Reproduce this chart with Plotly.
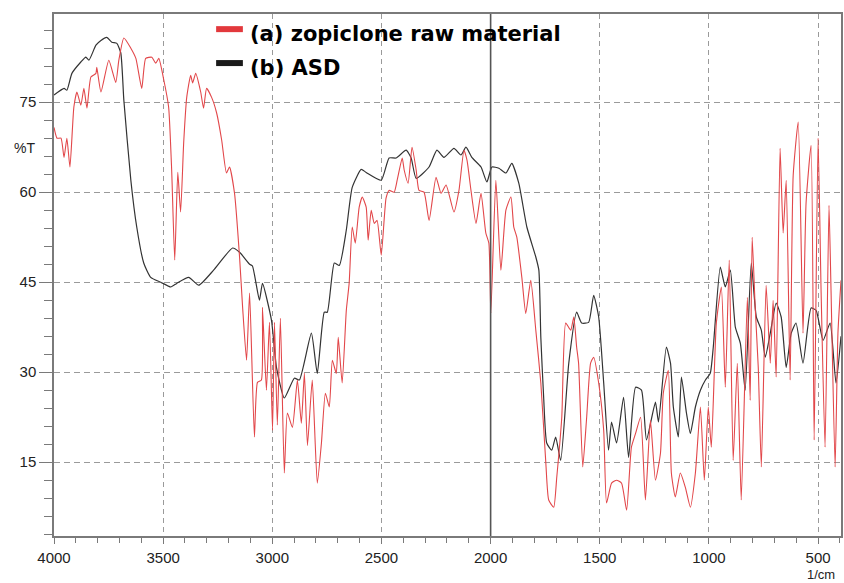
import plotly.graph_objects as go

# ---------------- data ----------------
asd_wavenumber = [4000,3954,3941,3918,3877,3854,3840,3808,3785,3758,
                  3735,3712,3694,3680,3648,3621,3589,3557,3511,3465,
                  3438,3383,3337,3269,3182,3150,3104,3091,3059,3045,
                  3004,2981,2945,2899,2876,2821,2794,2762,2748,2716,
                  2693,2661,2634,2593,2570,2501,2465,2433,2387,2364,
                  2341,2282,2246,2214,2168,2136,2113,2086,2044,2017,
                  1994,1962,1930,1903,1871,1834,1793,1779,1770,1757,
                  1743,1720,1702,1679,1642,1606,1583,1551,1528,1505,
                  1482,1460,1446,1423,1391,1368,1336,1309,1286,1245,
                  1231,1195,1176,1163,1140,1126,1103,1085,1062,1039,
                  1016,994,980,948,925,902,879,856,834,806,
                  783,760,742,719,692,669,646,623,601,569,
                  532,509,477,445,418,395]
asd_T = [76.2,77.3,77.0,79.8,81.7,82.5,82.0,84.5,85.3,85.8,
         85.0,84.8,83.2,75.3,62.0,54.2,48.2,45.8,45.0,44.2,
         44.8,45.8,44.5,47.0,50.7,50.0,48.0,47.7,42.0,44.8,
         38.7,30.8,25.7,29.0,28.7,36.5,29.8,40.0,40.0,48.2,
         47.8,53.7,60.8,63.8,63.3,62.0,65.7,65.7,67.0,65.7,
         62.3,64.2,67.0,65.8,67.3,66.2,67.5,65.8,64.2,61.7,
         64.2,64.0,63.2,64.8,61.5,54.2,49.2,47.0,35.8,25.8,
         18.2,17.0,19.2,15.3,31.5,40.0,38.2,38.3,42.8,39.2,
         28.2,17.0,21.7,18.2,25.8,15.8,27.5,27.0,18.7,25.0,
         21.7,34.2,31.5,24.2,19.2,29.2,23.2,19.8,24.2,27.0,
         28.7,29.8,34.2,47.5,44.2,47.0,37.5,34.8,27.0,48.2,
         39.2,37.0,32.5,36.5,41.5,39.2,30.8,36.5,38.2,31.5,
         40.7,40.3,35.3,38.2,28.2,36.0]

raw_wavenumber = [4000,3986,3968,3954,3941,3927,3909,3895,3877,3863,
                  3849,3831,3808,3804,3785,3749,3717,3703,3680,3648,
                  3625,3598,3580,3552,3534,3520,3497,3475,3461,3447,
                  3433,3420,3406,3392,3374,3365,3351,3328,3315,3301,
                  3278,3255,3232,3210,3196,3173,3150,3136,3118,3104,
                  3082,3068,3050,3045,3027,3013,2999,2990,2977,2963,
                  2945,2931,2908,2885,2867,2853,2839,2817,2794,2775,
                  2757,2739,2725,2707,2698,2680,2661,2648,2634,2620,
                  2602,2588,2570,2561,2547,2533,2520,2501,2479,2465,
                  2442,2428,2405,2396,2378,2360,2341,2328,2305,2282,
                  2250,2227,2204,2168,2145,2122,2108,2090,2067,2044,
                  2022,2008,1999,1976,1953,1930,1907,1894,1880,1857,
                  1839,1816,1793,1770,1747,1734,1711,1697,1674,1656,
                  1633,1619,1606,1597,1578,1560,1542,1528,1505,1482,
                  1469,1446,1423,1400,1377,1355,1336,1313,1291,1268,
                  1245,1222,1209,1186,1172,1154,1131,1108,1085,1062,
                  1039,1021,1003,989,966,943,925,907,889,870,
                  852,824,811,802,788,774,760,738,719,706,
                  692,674,660,646,628,614,591,569,555,532,
                  518,500,486,468,450,441,422,409,395]
raw_T = [70.8,69.0,69.0,65.8,69.0,64.2,74.2,76.7,74.5,77.3,
         74.0,79.2,79.8,80.8,76.7,82.0,78.3,82.0,85.7,84.0,
         82.3,77.3,82.3,82.5,81.5,82.3,78.7,74.2,63.7,48.7,
         63.3,56.7,68.2,75.8,79.5,78.2,79.8,76.7,74.0,77.3,
         75.8,73.2,68.7,63.2,64.2,59.8,49.2,40.8,32.0,43.2,
         19.2,28.3,28.7,40.8,27.0,38.3,20.3,38.3,21.2,39.0,
         13.2,23.2,20.8,28.7,21.5,29.8,17.8,28.7,11.5,18.2,
         26.5,24.2,32.0,29.8,35.8,28.2,40.3,44.8,54.2,51.5,
         57.5,59.2,57.5,52.0,57.0,54.8,55.3,49.5,59.0,60.3,
         60.0,62.0,65.7,63.7,61.5,67.5,63.7,60.3,60.0,55.3,
         62.5,59.8,61.2,56.7,60.3,67.0,65.3,60.3,54.8,59.8,
         53.2,51.5,39.8,62.0,47.0,57.0,59.2,54.2,52.5,45.8,
         39.8,45.3,37.0,28.2,14.8,8.7,7.5,12.5,22.5,38.2,
         37.0,39.2,34.2,31.5,14.2,22.5,31.5,32.5,28.2,20.3,
         8.2,11.5,12.0,11.5,7.0,17.5,19.8,22.5,8.7,22.0,
         12.0,16.5,26.5,30.3,13.2,9.2,13.2,10.8,7.5,13.2,
         24.2,12.0,24.2,17.5,38.2,44.2,27.5,48.7,15.3,31.5,
         8.7,42.5,25.3,52.5,40.8,30.8,14.2,44.5,31.5,42.0,
         29.2,67.3,53.2,62.0,28.7,62.8,71.7,36.5,58.2,67.8,
         18.7,69.0,43.2,17.5,57.8,44.2,14.2,36.5,45.3]

x_tick_values = [4000, 3500, 3000, 2500, 2000, 1500, 1000, 500]
x_tick_labels = ["4000", "3500", "3000", "2500", "2000", "1500", "1000", "500"]
y_tick_values = [15, 30, 45, 60, 75]
y_tick_labels = ["15", "30", "45", "60", "75"]
series_names = ["(a) zopiclone raw material", "(b) ASD"]
series_colors = ["#e2383c", "#1a1a1a"]
marker_wavenumber = 2000

# ---------------- figure ----------------
fig = go.Figure()
fig.add_trace(go.Scatter(x=asd_wavenumber, y=asd_T, mode="lines",
                         line=dict(color="#333333", width=1.2, shape="spline", smoothing=0.5),
                         name=series_names[1], showlegend=False))
fig.add_trace(go.Scatter(x=raw_wavenumber, y=raw_T, mode="lines",
                         line=dict(color="#e2474a", width=1.1, shape="spline", smoothing=0.5),
                         name=series_names[0], showlegend=False))

tick_font = dict(family="Liberation Sans, Arial, sans-serif", size=15, color="#222222")
grid_col = "#9a9a9a"
axis_col = "#7a7a7a"

fig.update_xaxes(range=[4000, 395], tickvals=x_tick_values, ticktext=x_tick_labels,
                 ticks="outside", ticklen=6, tickwidth=1.2, tickcolor=axis_col,
                 showline=True, linecolor=axis_col, linewidth=1.5, mirror=True,
                 showgrid=True, gridcolor=grid_col, gridwidth=1, griddash="5px,4px",
                 zeroline=False, tickfont=tick_font, ticklabelstandoff=1,
                 minor=dict(tick0=0, dtick=100, ticks="outside", ticklen=5,
                            tickcolor=axis_col, tickwidth=1.2, showgrid=False))
fig.update_yaxes(range=[2.7, 89.7], tickvals=y_tick_values, ticktext=y_tick_labels,
                 ticks="outside", ticklen=13, tickwidth=1.2, tickcolor=axis_col,
                 showline=True, linecolor=axis_col, linewidth=1.5, mirror=True,
                 showgrid=True, gridcolor=grid_col, gridwidth=1, griddash="6px,4px",
                 zeroline=False, tickfont=tick_font,
                 minor=dict(tick0=0, dtick=3, ticks="outside", ticklen=8,
                            tickcolor=axis_col, tickwidth=1.2, showgrid=False))

# solid vertical marker line at 2000 1/cm
fig.add_shape(type="line", xref="x", yref="paper", x0=marker_wavenumber, x1=marker_wavenumber,
              y0=0, y1=1, line=dict(color="#555555", width=1.6))

# legend (manual)
legend_font = dict(family="DejaVu Sans, Arial, sans-serif", size=21, color="#000000")
sw = [(0.971, series_colors[0]), (0.906, series_colors[1])]
for (yy, col) in sw:
    fig.add_shape(type="line", xref="paper", yref="paper", x0=0.206, x1=0.240,
                  y0=yy, y1=yy, line=dict(color=col, width=6))
fig.add_annotation(xref="paper", yref="paper", x=0.247, y=0.962, xanchor="left", yanchor="middle",
                   text="<b>" + series_names[0] + "</b>", showarrow=False, font=legend_font)
fig.add_annotation(xref="paper", yref="paper", x=0.247, y=0.897, xanchor="left", yanchor="middle",
                   text="<b>" + series_names[1] + "</b>", showarrow=False, font=legend_font)

# axis titles
fig.add_annotation(xref="paper", yref="paper", x=-0.037, y=0.743, xanchor="center", yanchor="middle",
                   text="%T", showarrow=False,
                   font=dict(family="Liberation Sans, Arial, sans-serif", size=14, color="#222222"))
fig.add_annotation(xref="paper", yref="paper", x=0.975, y=-0.0735, xanchor="center", yanchor="middle",
                   text="1/cm", showarrow=False, borderpad=0,
                   font=dict(family="Liberation Sans, Arial, sans-serif", size=13, color="#222222"))

fig.update_layout(width=844, height=583, margin=dict(l=54, r=1, t=14, b=47),
                  paper_bgcolor="white", plot_bgcolor="white", showlegend=False)

fig.write_html("out.html")
